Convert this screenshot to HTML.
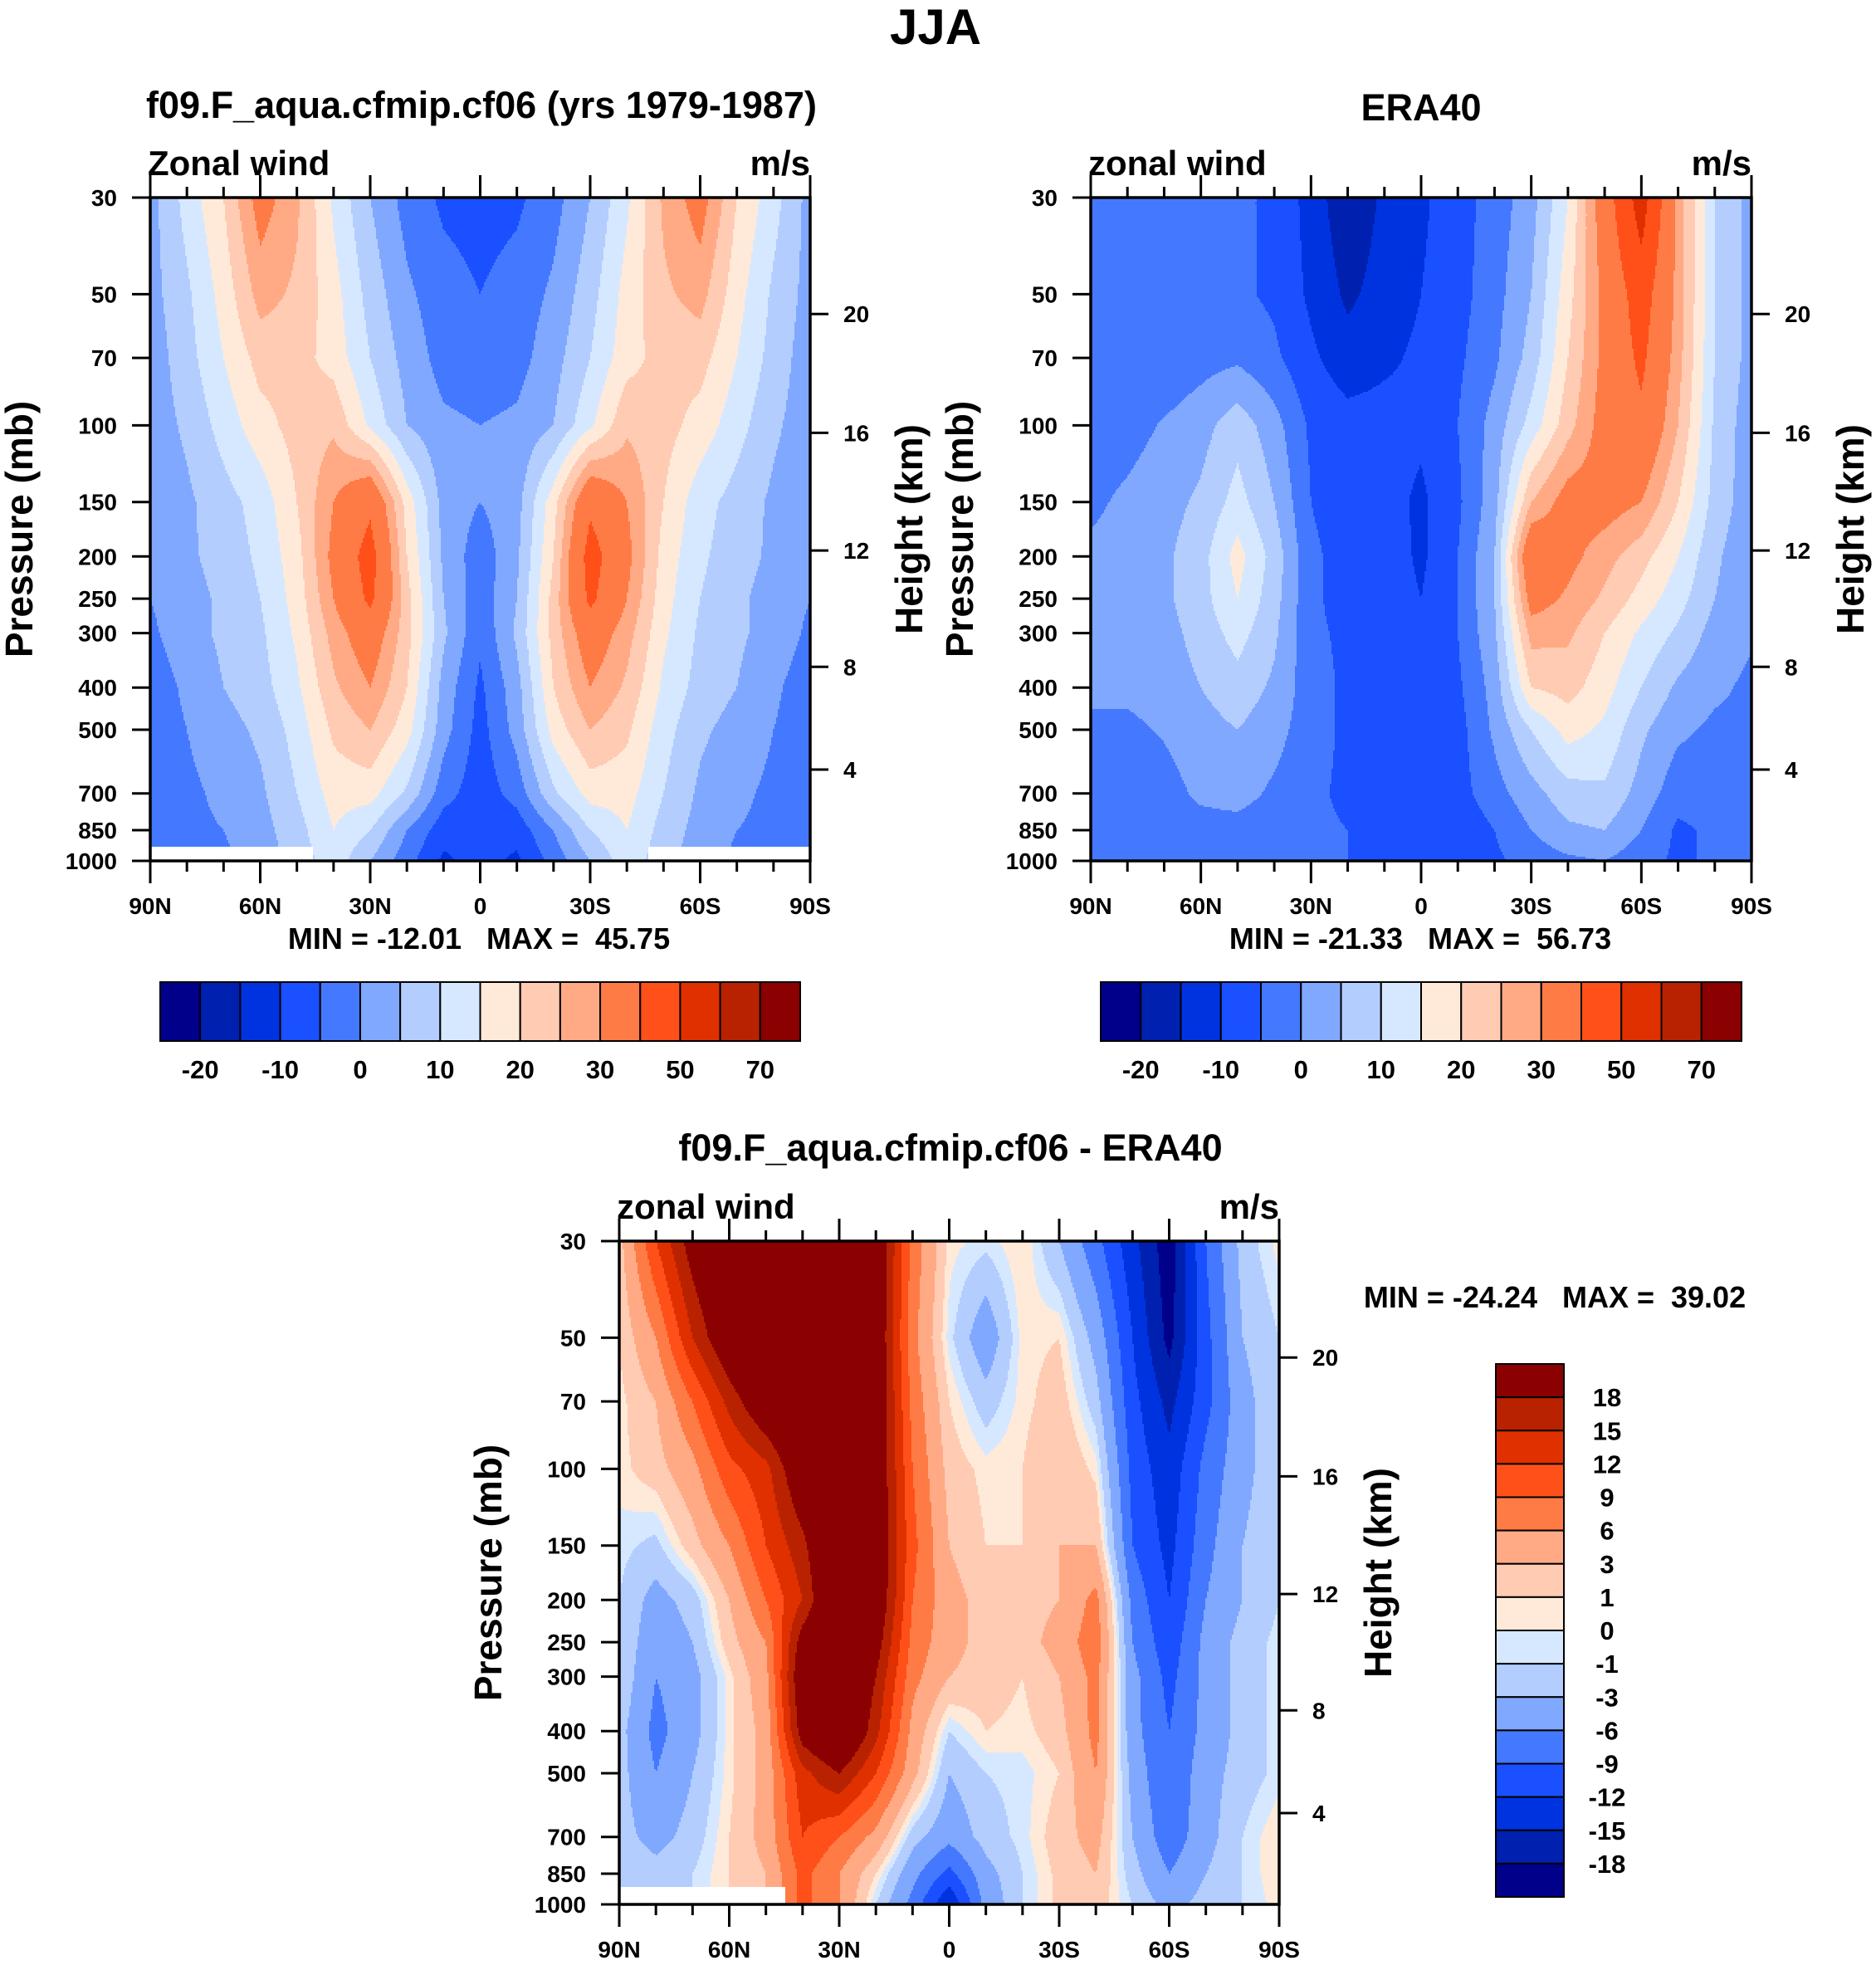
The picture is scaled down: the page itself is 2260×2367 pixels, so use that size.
<!DOCTYPE html>
<html><head><meta charset="utf-8">
<style>
html,body{margin:0;padding:0;background:#fff;}
svg{display:block;font-family:"Liberation Sans",Arial,sans-serif;font-weight:bold;}
text{white-space:pre;}
</style></head>
<body>
<svg id="fig" width="2260" height="2367" viewBox="0 0 2260 2367" xmlns="http://www.w3.org/2000/svg">
<text x="1127" y="53" font-size="60" text-anchor="middle">JJA</text>
</svg>
<script>
// ---- shared axis data ----
const pressureLevels = [30,50,70,100,150,200,250,300,400,500,700,850,1000];
const latLabels = ["90N","60N","30N","0","30S","60S","90S"];
const heightTicks = ["20","16","12","8","4"];
const heightFrac = [0.1755,0.3547,0.532,0.7075,0.8623];

const colors = ["#00008b","#0020b0","#0033e0","#1a50ff","#4479ff","#80a8ff","#b3cdff","#d6e8ff","#ffeada","#ffcbb3","#ffaa85","#ff7b45","#ff5019","#e03000","#b82200","#8b0000"];
const levelsAbs = [-20,-15,-10,-5,0,5,10,15,20,25,30,40,50,60,70];
const levelsAbsLabels = ["-20","-10","0","10","20","30","50","70"];
const levelsDiff = [-18,-15,-12,-9,-6,-3,-1,0,1,3,6,9,12,15,18];
const levelsDiffLabels = ["-18","-15","-12","-9","-6","-3","-1","0","1","3","6","9","12","15","18"];

// ---- panel 1: model (rows = pressureLevels, cols = 90N..90S every 10deg)
const modelValues = [
[3,12,20,33,26,14,5,-2,-6,-7,-6,-2,5,14,26,33,20,12,3],
[3,9,17,27,24,17,8,1,-3,-5,-3,1,8,17,24,27,17,9,3],
[2,8,15,22,22,18,10,3,-2,-3,-2,3,10,18,22,22,15,8,2],
[2,6,12,18,22,24,14,5,1,0,1,5,14,24,22,18,12,6,2],
[1,4,8,12,20,30,38,18,3,0,3,18,38,30,20,12,8,4,1],
[1,4,7,11,18,32,44,20,4,-3,4,20,44,32,18,11,7,4,1],
[0,3,6,10,17,30,42,22,5,-3,5,22,42,30,17,10,6,3,0],
[-1,3,6,9,16,27,35,22,6,-4,6,22,35,27,16,9,6,3,-1],
[-3,1,5,8,14,24,30,20,3,-6,3,20,30,24,14,8,5,1,-3],
[-3,0,3,6,12,21,25,17,2,-7,2,17,25,21,12,6,3,0,-3],
[-2,-1,1,4,10,17,17,9,-3,-8,-3,9,17,17,10,4,1,-1,-2],
[-2,-1,0,3,8,15,10,0,-8,-9,-8,0,10,15,8,3,0,-1,-2],
[-2,-2,-1,2,7,13,5,-3,-11,-8,-11,-3,5,13,7,2,-1,-2,-2]
];
// ---- panel 2: ERA40
const eraValues = [
[-3,-3,-3,-3,-4,-6,-12,-19,-14,-11,-7,-3,3,15,35,55,28,10,3],
[-3,-4,-4,-4,-4,-6,-11,-16,-13,-10,-7,-2,5,18,32,45,28,10,3],
[-3,-4,-4,-2,-1,-4,-9,-13,-11,-9,-6,-1,7,20,32,42,27,10,3],
[-3,-2,0.5,3,8,2,-6,-8,-8,-9,-5,2,12,23,33,38,25,9,2],
[-1,1,3,6,12,5,-5,-8,-8,-11,-6,3,25,33,33,30,20,8,2],
[1,2,4,8,17,8,-4,-7,-7,-11,-5,5,38,32,27,22,15,6,1],
[1,2,4,8,15,7,-4,-7,-7,-10,-5,5,33,29,24,18,12,5,1],
[1,2,3,7,12,6,-4,-6,-6,-9,-5,4,27,26,20,14,9,3,0.5],
[1,1,2,5,8,4,-3,-6,-6,-8,-6,2,20,22,17,10,4,1,-1],
[-1,-1,0.5,3,5,2,-3,-6,-6,-7,-7,1,10,17,14,6,1,-1,-1],
[-2,-3,-2,1,2,-1,-4,-6,-6,-7,-7,-2,3,8,9,3,-3,-2,-2],
[-3,-3,-3,-2,-2,-3,-4,-5,-6,-7,-9,-5,0,4,5,0,-6,-4,-3],
[-4,-4,-4,-3,-3,-4,-4,-5,-5,-6,-7,-6,-3,-1,0,-3,-6,-4,-3]
];
// ---- panel 3: difference
const diffValues = [
[2,12,20,25,25,25,25,22,8,0.5,-0.5,1,-3,-8,-14,-20,-9,-2,0.5],
[1,6,15,22,25,25,25,22,7,-0.5,-5,0.5,1,-4,-12,-19,-10,-3,-1],
[0.5,3,9,16,22,25,25,22,8,1,-2,0.5,2,-2,-11,-16,-10,-4,-1],
[0.5,2,5,11,14,22,25,22,9,2,0.5,1,3,0.5,-10,-14,-8,-4,-1],
[-0.5,-1.5,2,6,12,17,25,22,10,3,1,1,3,3,-9,-13,-7,-3,-1],
[-1,-4,-2,3,9,15,25,22,9,4,2,2,3,7,-7,-12,-6,-3,-1],
[-1,-5,-3,2,6,20,25,20,8,4,2,2,4,8,-6,-11,-5,-2,-0.5],
[-1,-6,-4,0.5,5,22,25,18,7,3,2,1,3,7,-5,-10,-5,-2,-0.5],
[-2,-7,-4,0.5,4,20,25,16,5,-1,1,0.5,2,7,-5,-9,-5,-2,-0.5],
[-2,-6,-3,0.5,4,14,18,12,4,-3,-1,-0.5,1,6,-4,-9,-4,-2,-0.5],
[-2,-4,-2,1,4,12,9,5,-2,-5,-2,-0.5,2,4,-3,-8,-4,-1,1],
[-1,-2,-1,1,3,10,6,1,-5,-10,-4,-1,1.5,3,-2,-6,-3,-1,1],
[-1,-2,-1,1,3,10,6,-1,-7,-15,-5,-1,1.5,2,-1,-4,-2,-1,0.5]
];

const NS="http://www.w3.org/2000/svg";
const svg=document.getElementById('fig');
function mk(tag,attrs,parent){const e=document.createElementNS(NS,tag);for(const k in attrs)e.setAttribute(k,attrs[k]);(parent||svg).appendChild(e);return e;}
function txt(s,attrs,parent){const e=mk('text',attrs,parent);e.textContent=s;return e;}

function levelIndex(v,levels){let i=0;while(i<levels.length&&v>=levels[i])i++;return i;}

function drawPanel(P,values,levels,opts){
  const g=mk('g',{});
  
  
  const lnTop=Math.log(30),lnBot=Math.log(1000);
  const yOf=p=>P.y+(Math.log(p)-lnTop)/(lnBot-lnTop)*P.h;
  const xOfLat=lat=>P.x+(90-lat)/180*P.w;
  const nC=values[0].length, nR=values.length;
  const lnP=pressureLevels.map(Math.log);
  function sample(px,py){
    const fx=(px-P.x)/P.w*(nC-1);
    const lp=lnTop+(py-P.y)/P.h*(lnBot-lnTop);
    let r=0;while(r<nR-2&&lp>lnP[r+1])r++;
    let fy=(lp-lnP[r])/(lnP[r+1]-lnP[r]);fy=Math.max(0,Math.min(1,fy));
    let c=Math.min(nC-2,Math.max(0,Math.floor(fx)));let tx=Math.max(0,Math.min(1,fx-c));
    const a=values[r][c],b=values[r][c+1],d=values[r+1][c],e=values[r+1][c+1];
    return (a*(1-tx)+b*tx)*(1-fy)+(d*(1-tx)+e*tx)*fy;
  }
  const cg=mk('g',{'shape-rendering':'crispEdges'},g);
  
  
  const step=2;
  const xEnd=P.x+P.w;
  for(let yy=P.y;yy<P.y+P.h;yy+=step){
    const hh=Math.min(step,P.y+P.h-yy)+0.5;
    let runStart=P.x,runIdx=null;
    for(let xx=P.x;xx<xEnd;xx+=step){
      const idx=levelIndex(sample(Math.min(xx+step/2,xEnd),yy+step/2),levels);
      if(runIdx===null){runIdx=idx;runStart=xx;continue;}
      if(idx!==runIdx){
        const r=mk('rect',{x:runStart,y:yy,width:xx-runStart+0.5,height:hh,fill:colors[runIdx]},cg);
        
        
        runIdx=idx;runStart=xx;
      }
    }
    const r=mk('rect',{x:runStart,y:yy,width:xEnd-runStart,height:hh,fill:colors[runIdx]},cg);
    
    
  }
  (opts.masks||[]).forEach(m=>{
    const r=mk('rect',{x:m[0],y:m[1],width:m[2],height:m[3],fill:'#fff'},g);
    
    
  });
  const fr=mk('rect',{x:P.x,y:P.y,width:P.w,height:P.h,fill:'none',stroke:'#000','stroke-width':3.5},g);
  
  
  for(let lat=90;lat>=-90;lat-=10){
    const x=xOfLat(lat);const major=(lat%30===0);const L=major?27:13;
    mk('line',{x1:x,y1:P.y+P.h,x2:x,y2:P.y+P.h+L,stroke:'#000','stroke-width':3},g);
    mk('line',{x1:x,y1:P.y,x2:x,y2:P.y-L,stroke:'#000','stroke-width':3},g);
  }
  latLabels.forEach((s,i)=>{
    const t=txt(s,{x:P.x+i*P.w/6,y:P.y+P.h+64,'font-size':28,'text-anchor':'middle'},g);
    
    
  });
  pressureLevels.forEach(p=>{
    const y=yOf(p);
    mk('line',{x1:P.x,y1:y,x2:P.x-22,y2:y,stroke:'#000','stroke-width':3},g);
    const t=txt(String(p),{x:P.x-40,y:y+10,'font-size':28,'text-anchor':'end'},g);
    
    
  });
  heightTicks.forEach((s,i)=>{
    const y=P.y+heightFrac[i]*P.h;
    mk('line',{x1:P.x+P.w,y1:y,x2:P.x+P.w+22,y2:y,stroke:'#000','stroke-width':3},g);
    const t=txt(s,{x:P.x+P.w+40,y:y+10,'font-size':28},g);
    
    
  });
  const yl=txt('Pressure (mb)',{x:0,y:0,'font-size':46,'text-anchor':'middle',transform:`translate(${P.x-142},${P.y+P.h/2}) rotate(-90)`},g);
  
  
  const hl=txt('Height (km)',{x:0,y:0,'font-size':46,'text-anchor':'middle',transform:`translate(${P.x+P.w+135},${P.y+P.h/2}) rotate(-90)`},g);
  
  
  const lt=txt(opts.left,{x:P.x-3,y:P.y-27,'font-size':42},g);
  
  
  const rt=txt('m/s',{x:P.x+P.w,y:P.y-27,'font-size':42,'text-anchor':'end'},g);
  
  
  const tt=txt(opts.title,{x:opts.titleX,y:opts.titleY,'font-size':45,'text-anchor':'middle'},g);
  
  
  const mm=txt(opts.minmax,{x:opts.mmX,y:opts.mmY,'font-size':36,'text-anchor':'middle'},g);
  
  
}

function hColorbar(x,y,w,h,labels,name){
  const g=mk('g',{});
  
  
  const bw=w/colors.length;
  colors.forEach((c,i)=>{
    const r=mk('rect',{x:x+i*bw,y:y,width:bw,height:h,fill:c,stroke:'#000','stroke-width':2},g);
    
    
  });
  labels.forEach((s,i)=>{
    const t=txt(s,{x:x+(1+2*i)*bw,y:y+h+45,'font-size':31,'text-anchor':'middle'},g);
    
    
  });
}
function vColorbar(x,y,w,h,labels,name){
  const g=mk('g',{});
  
  
  const bh=h/colors.length;
  colors.slice().reverse().forEach((c,i)=>{
    const r=mk('rect',{x:x,y:y+i*bh,width:w,height:bh,fill:c,stroke:'#000','stroke-width':2},g);
    
    
  });
  labels.slice().reverse().forEach((s,i)=>{
    const t=txt(s,{x:x+w+52,y:y+(i+1)*bh+11,'font-size':31,'text-anchor':'middle'},g);
    
    
  });
}

const P1={x:181,y:238,w:795,h:799};
const P2={x:1314,y:238,w:796,h:799};
const P3={x:746,y:1495,w:795,h:799};
drawPanel(P1,modelValues,levelsAbs,{name:'model-panel',left:'Zonal wind',title:'f09.F_aqua.cfmip.cf06 (yrs 1979-1987)',titleX:580,titleY:142,minmax:'MIN = -12.01   MAX =  45.75',mmX:577,mmY:1143,masks:[[181,1020,196,17],[781,1020,195,17]]});
drawPanel(P2,eraValues,levelsAbs,{name:'era40-panel',left:'zonal wind',title:'ERA40',titleX:1712,titleY:145,minmax:'MIN = -21.33   MAX =  56.73',mmX:1711,mmY:1143});
drawPanel(P3,diffValues,levelsDiff,{name:'difference-panel',left:'zonal wind',title:'f09.F_aqua.cfmip.cf06 - ERA40',titleX:1145,titleY:1398,minmax:'MIN = -24.24   MAX =  39.02',mmX:1873,mmY:1575,masks:[[746,2273,200,21]]});
hColorbar(193,1183,771,71,levelsAbsLabels,'model-colorbar');
hColorbar(1326,1183,772,71,levelsAbsLabels,'era40-colorbar');
vColorbar(1802,1643,82,642,levelsDiffLabels,'difference-colorbar');
</script>
</body></html>
